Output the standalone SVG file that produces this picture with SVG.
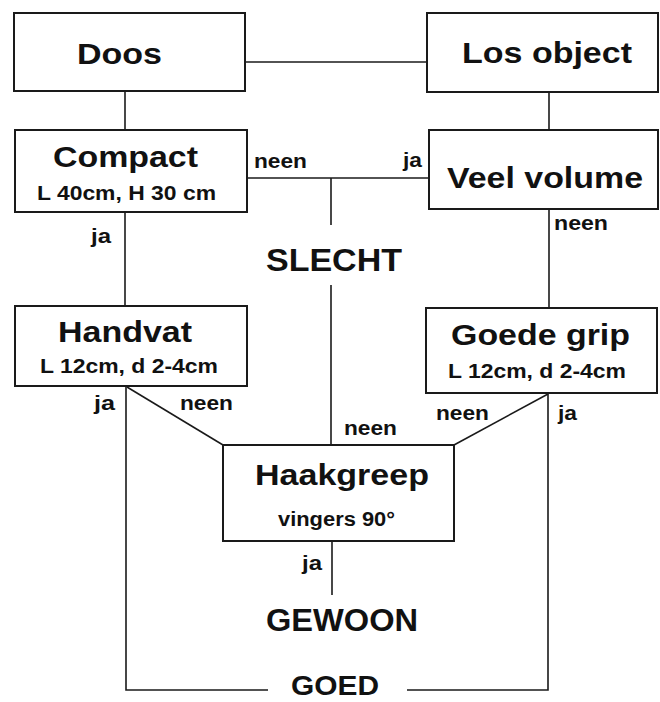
<svg xmlns="http://www.w3.org/2000/svg" width="660" height="702" viewBox="0 0 660 702">
<style>
.box{fill:#fff;stroke:#1a1a1a;stroke-width:2}
.ln{fill:none;stroke:#1a1a1a;stroke-width:1.6}
text{font-family:"Liberation Sans",Arial,sans-serif;font-weight:bold;fill:#111}
.big{font-size:29px}
.huge{font-size:31px}
.sub{font-size:20px}
.lbl{font-size:20px}
</style>
<rect width="660" height="702" fill="#fff"/>
<g id="connectors">
<path class="ln" d="M245,62 H427"/>
<path class="ln" d="M125,91 V130"/>
<path class="ln" d="M549,92 V130"/>
<path class="ln" d="M247,178 H429"/>
<path class="ln" d="M331,178 V225"/>
<path class="ln" d="M331,285 V445"/>
<path class="ln" d="M549,209 V308"/>
<path class="ln" d="M125,212 V306"/>
<path class="ln" d="M126,386 V690 H268"/>
<path class="ln" d="M127,387 L223,445"/>
<path class="ln" d="M548,393 V690 H407"/>
<path class="ln" d="M548,394 L454,445"/>
<path class="ln" d="M332,541 V595"/>
<text class="lbl" x="254" y="168" textLength="53" lengthAdjust="spacingAndGlyphs">neen</text>
<text class="lbl" x="403" y="167" textLength="19" lengthAdjust="spacingAndGlyphs">ja</text>
<text class="lbl" x="554" y="230" textLength="54" lengthAdjust="spacingAndGlyphs">neen</text>
<text class="lbl" x="91" y="243" textLength="20" lengthAdjust="spacingAndGlyphs">ja</text>
<text class="lbl" x="94" y="410" textLength="21" lengthAdjust="spacingAndGlyphs">ja</text>
<text class="lbl" x="180" y="410" textLength="53" lengthAdjust="spacingAndGlyphs">neen</text>
<text class="lbl" x="436" y="420" textLength="53" lengthAdjust="spacingAndGlyphs">neen</text>
<text class="lbl" x="558" y="420" textLength="19" lengthAdjust="spacingAndGlyphs">ja</text>
<text class="lbl" x="344" y="435" textLength="53" lengthAdjust="spacingAndGlyphs">neen</text>
<text class="lbl" x="302" y="570" textLength="20" lengthAdjust="spacingAndGlyphs">ja</text>
</g>
<g id="doos">
<rect class="box" x="14" y="13" width="231" height="78"/>
<text class="big" x="77" y="64" textLength="85" lengthAdjust="spacingAndGlyphs">Doos</text>
</g>
<g id="los-object">
<rect class="box" x="427" y="13" width="231" height="79"/>
<text class="big" x="462" y="63" textLength="170" lengthAdjust="spacingAndGlyphs">Los object</text>
</g>
<g id="compact">
<rect class="box" x="15" y="130" width="232" height="82"/>
<text class="big" x="53" y="167" textLength="145" lengthAdjust="spacingAndGlyphs">Compact</text>
<text class="sub" x="37" y="200" textLength="179" lengthAdjust="spacingAndGlyphs">L 40cm, H 30 cm</text>
</g>
<g id="veel-volume">
<rect class="box" x="429" y="130" width="229" height="79"/>
<text class="big" x="447" y="188" textLength="196" lengthAdjust="spacingAndGlyphs">Veel volume</text>
</g>
<g id="slecht">
<text class="huge" x="266" y="271" textLength="136" lengthAdjust="spacingAndGlyphs">SLECHT</text>
</g>
<g id="handvat">
<rect class="box" x="15" y="306" width="232" height="80"/>
<text class="big" x="58" y="342" textLength="134" lengthAdjust="spacingAndGlyphs">Handvat</text>
<text class="sub" x="40" y="373" textLength="178" lengthAdjust="spacingAndGlyphs">L 12cm, d 2-4cm</text>
</g>
<g id="goede-grip">
<rect class="box" x="426" y="308" width="231" height="85"/>
<text class="big" x="451" y="345" textLength="179" lengthAdjust="spacingAndGlyphs">Goede grip</text>
<text class="sub" x="448" y="378" textLength="178" lengthAdjust="spacingAndGlyphs">L 12cm, d 2-4cm</text>
</g>
<g id="haakgreep">
<rect class="box" x="223" y="445" width="231" height="96"/>
<text class="big" x="255" y="485" textLength="174" lengthAdjust="spacingAndGlyphs">Haakgreep</text>
<text class="sub" x="278" y="526" textLength="117" lengthAdjust="spacingAndGlyphs">vingers 90°</text>
</g>
<g id="gewoon">
<text class="huge" x="266" y="631" textLength="152" lengthAdjust="spacingAndGlyphs">GEWOON</text>
</g>
<g id="goed">
<text class="big" x="291" y="695" textLength="88" lengthAdjust="spacingAndGlyphs" style="font-size:28px">GOED</text>
</g>
</svg>
